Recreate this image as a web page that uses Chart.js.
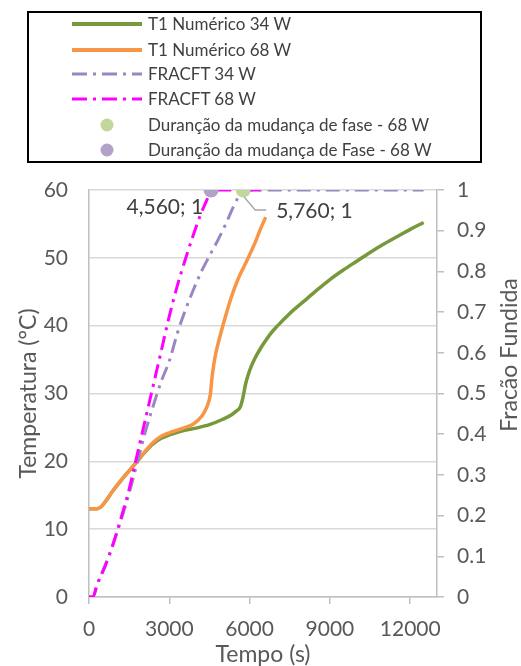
<!DOCTYPE html>
<html>
<head>
<meta charset="utf-8">
<script src="https://cdn.jsdelivr.net/npm/chart.js@4"></script>
<style>
  html, body { margin: 0; padding: 0; background: #fff; }
  #wrap { position: relative; width: 521px; height: 666px; overflow: hidden; }
  #legend { position: absolute; left: 27px; top: 11px; width: 451px; height: 148px; border: 2px solid #000; box-sizing: content-box; }
  .row { position: absolute; left: 0; height: 24px; font-family: Lato, "Liberation Sans", sans-serif; font-size: 17px; color: #404040; white-space: nowrap; }
  .row svg { position: absolute; left: 43px; top: 8px; }
  .row span { position: absolute; left: 119px; top: 1px; line-height: 22px; }
  canvas { position: absolute; left: 0; top: 0; }
</style>
</head>
<body>
<div id="wrap">
  <canvas id="c" width="521" height="666"></canvas>
  <div id="legend"></div>
</div>
<script>
// ---- Data ----
const timeT1_34 = [0, 300, 450, 600, 900, 1200, 1500, 1800, 2100, 2400, 2700, 3000, 3500, 4000, 4500, 5000, 5300, 5500, 5650, 5750, 5850, 5950, 6050, 6200, 6400, 6600, 6800, 7000, 7200, 7500, 8000, 8500, 9000, 9500, 10000, 10500, 11000, 11500, 12000, 12500];
const tempT1_34 = [13, 13, 13.3, 14, 15.7, 17.2, 18.6, 20.0, 21.4, 22.6, 23.4, 23.9, 24.5, 24.9, 25.4, 26.2, 26.8, 27.4, 28.0, 29.4, 31.4, 32.8, 33.9, 35.2, 36.6, 37.8, 38.9, 39.8, 40.6, 41.8, 43.5, 45.2, 46.8, 48.2, 49.5, 50.8, 52.0, 53.1, 54.2, 55.2];

const timeT1_68 = [0, 300, 450, 600, 900, 1200, 1500, 1800, 2100, 2400, 2700, 3000, 3300, 3600, 3900, 4200, 4400, 4530, 4600, 4700, 4800, 5000, 5100, 5300, 5550, 5900, 6200, 6400, 6600];
const tempT1_68 = [13, 13, 13.3, 14, 15.7, 17.2, 18.6, 20.0, 21.5, 22.8, 23.7, 24.2, 24.6, 25.0, 25.5, 26.6, 28.0, 29.8, 32.5, 35.2, 37.0, 40.0, 41.4, 44.0, 46.7, 49.6, 52.2, 54.2, 56.0];

const timeFrac34 = [0, 150, 300, 600, 900, 1200, 1500, 1800, 2100, 2400, 2700, 3000, 3300, 3600, 3900, 4200, 4500, 4800, 5100, 5400, 5600, 5760, 6500, 8000, 10000, 12500];
const frac34 = [0, 0, 0.03, 0.078, 0.13, 0.19, 0.255, 0.33, 0.405, 0.47, 0.53, 0.58, 0.648, 0.705, 0.755, 0.80, 0.838, 0.875, 0.915, 0.96, 0.985, 1, 1, 1, 1, 1];

const timeFrac68 = [0, 150, 300, 600, 900, 1200, 1500, 1800, 2100, 2400, 2700, 3000, 3300, 3600, 3900, 4200, 4400, 4560, 5000, 5760, 6600];
const frac68 = [0, 0, 0.03, 0.075, 0.13, 0.195, 0.265, 0.35, 0.435, 0.52, 0.605, 0.69, 0.765, 0.83, 0.89, 0.945, 0.975, 1, 1, 1, 1];

const phaseTime34 = [5760];
const phaseFrac34 = [1];
const phaseTime68 = [4560];
const phaseFrac68 = [1];

const xTicks = [0, 3000, 6000, 9000, 12000];
const yTicks = [0, 10, 20, 30, 40, 50, 60];
const y1Ticks = [0, 0.1, 0.2, 0.3, 0.4, 0.5, 0.6, 0.7, 0.8, 0.9, 1];

const seriesNames = ["T1 Numérico 34 W", "T1 Numérico 68 W", "FRACFT 34 W", "FRACFT 68 W", "Duranção da mudança de fase - 68 W", "Duranção da mudança de Fase - 68 W"];
const xTitle = "Tempo (s)";
const yTitle = "Temperatura (°C)";
const y1Title = "Fracão Fundida";

// ---- styling ----
const GREEN = '#77983b', ORANGE = '#f79646', PURPLE = '#9a86c2', MAGENTA = '#ff00ff';
const GREEN_MK = '#c3d69b', PURPLE_MK = '#b3a2c7';
const DASH = [14, 6, 3, 6];
const FONT = 'Lato, "Liberation Sans", sans-serif';
const TXT = '#595959';

function pts(xs, ys) { return xs.map((x, i) => ({ x: x, y: ys[i] })); }
function fixTicks(list) { return s => { s.ticks = list.map(v => ({ value: v })); }; }

// ---- Legend (HTML) ----
const legendItems = [
  { name: seriesNames[0], type: 'line', color: GREEN, dash: null, w: 4 },
  { name: seriesNames[1], type: 'line', color: ORANGE, dash: null, w: 4 },
  { name: seriesNames[2], type: 'line', color: PURPLE, dash: '15 6 3 6', w: 3 },
  { name: seriesNames[3], type: 'line', color: MAGENTA, dash: '15 6 3 6', w: 3 },
  { name: seriesNames[4], type: 'dot', color: GREEN_MK },
  { name: seriesNames[5], type: 'dot', color: PURPLE_MK }
];
const rowCenters = [24, 50, 74, 99, 125, 150];
const leg = document.getElementById('legend');
legendItems.forEach((it, i) => {
  const r = document.createElement('div');
  r.className = 'row';
  r.style.top = (rowCenters[i] - 13 - 12) + 'px';
  let svg;
  if (it.type === 'line') {
    svg = '<svg width="70" height="8"><line x1="0" y1="4" x2="70" y2="4" stroke="' + it.color + '" stroke-width="' + it.w + '"' + (it.dash ? ' stroke-dasharray="' + it.dash + '"' : ' stroke-linecap="round"') + '/></svg>';
  } else {
    svg = '<svg width="70" height="14" style="top:5px"><circle cx="35" cy="7" r="6.5" fill="' + it.color + '"/></svg>';
  }
  r.innerHTML = svg + '<span>' + it.name + '</span>';
  leg.appendChild(r);
});

// ---- custom plugin: right title + data labels ----
const extras = {
  id: 'extras',
  afterDatasetsDraw(chart) {
    const ctx = chart.ctx;
    const x = chart.scales.x, y1 = chart.scales.y1;
    ctx.save();
    const px1 = x.getPixelForValue(phaseTime68[0]), py1 = y1.getPixelForValue(phaseFrac68[0]);
    ctx.fillStyle = '#404040';
    ctx.font = '21px ' + FONT;
    ctx.textBaseline = 'middle';
    ctx.textAlign = 'right';
    ctx.fillText(phaseTime68[0].toLocaleString('en-US') + '; ' + phaseFrac68[0], px1 - 8, py1 + 17);
    const px2 = x.getPixelForValue(phaseTime34[0]), py2 = y1.getPixelForValue(phaseFrac34[0]);
    ctx.strokeStyle = '#a6a6a6';
    ctx.lineWidth = 1.3;
    ctx.beginPath();
    ctx.moveTo(px2 + 1, py2 + 7);
    ctx.lineTo(px2 + 12, py2 + 20);
    ctx.lineTo(px2 + 23, py2 + 20);
    ctx.stroke();
    ctx.textAlign = 'left';
    ctx.fillText(phaseTime34[0].toLocaleString('en-US') + '; ' + phaseFrac34[0], px2 + 33, py2 + 21);
    ctx.fillStyle = TXT;
    ctx.font = '23px ' + FONT;
    ctx.textAlign = 'center';
    ctx.translate(510, 355);
    ctx.rotate(-Math.PI / 2);
    ctx.fillText(y1Title, 0, 0);
    ctx.restore();
  }
};

new Chart(document.getElementById('c'), {
  type: 'line',
  data: {
    datasets: [
      { label: seriesNames[5], type: 'scatter', data: pts(phaseTime68, phaseFrac68), yAxisID: 'y1', pointRadius: 7.5, pointHoverRadius: 7.5, pointBackgroundColor: PURPLE_MK, pointBorderWidth: 0, backgroundColor: PURPLE_MK, order: 0 },
      { label: seriesNames[4], type: 'scatter', data: pts(phaseTime34, phaseFrac34), yAxisID: 'y1', pointRadius: 7.5, pointHoverRadius: 7.5, pointBackgroundColor: GREEN_MK, pointBorderWidth: 0, backgroundColor: GREEN_MK, order: 0 },
      { label: seriesNames[3], data: pts(timeFrac68, frac68), yAxisID: 'y1', borderColor: MAGENTA, borderWidth: 3, borderDash: DASH, pointRadius: 0, cubicInterpolationMode: 'monotone', order: 1 },
      { label: seriesNames[2], data: pts(timeFrac34, frac34), yAxisID: 'y1', borderColor: PURPLE, borderWidth: 3, borderDash: DASH, pointRadius: 0, cubicInterpolationMode: 'monotone', order: 2 },
      { label: seriesNames[1], data: pts(timeT1_68, tempT1_68), yAxisID: 'y', borderColor: ORANGE, borderWidth: 3.5, pointRadius: 0, cubicInterpolationMode: 'monotone', order: 3 },
      { label: seriesNames[0], data: pts(timeT1_34, tempT1_34), yAxisID: 'y', borderColor: GREEN, borderWidth: 3.5, pointRadius: 0, cubicInterpolationMode: 'monotone', order: 4 }
    ]
  },
  options: {
    responsive: false,
    animation: false,
    events: [],
    layout: { padding: { top: 190, left: 0, right: 0, bottom: 0 } },
    plugins: { legend: { display: false }, tooltip: { enabled: false } },
    scales: {
      x: {
        type: 'linear', position: 'bottom', min: 0, max: 13000,
        afterFit(s) { s.height = 69; },
        afterBuildTicks: fixTicks(xTicks),
        ticks: { autoSkip: false, color: TXT, font: { family: FONT, size: 21 }, padding: 13, maxRotation: 0, callback: v => String(v) },
        grid: { drawOnChartArea: false, drawTicks: true, tickLength: 7, color: '#bfbfbf', lineWidth: 1.5 },
        border: { color: '#bfbfbf', width: 1.5 },
        title: { display: true, text: xTitle, color: TXT, font: { family: FONT, size: 23, lineHeight: 1.0 }, padding: { top: 0, bottom: 0 } }
      },
      y: {
        type: 'linear', position: 'left', min: 0, max: 60,
        afterFit(s) { s.width = 89; },
        afterBuildTicks: fixTicks(yTicks),
        ticks: { autoSkip: false, color: TXT, font: { family: FONT, size: 21 }, padding: 21 },
        grid: { drawTicks: false, color: '#d9d9d9', lineWidth: 1.5 },
        border: { color: '#bfbfbf', width: 1.5 },
        title: { display: true, text: yTitle, color: TXT, font: { family: FONT, size: 23, lineHeight: 1.0 }, padding: { top: 17, bottom: 0 } }
      },
      y1: {
        type: 'linear', position: 'right', min: 0, max: 1,
        afterFit(s) { s.width = 84; },
        afterBuildTicks: fixTicks(y1Ticks),
        ticks: { autoSkip: false, color: TXT, font: { family: FONT, size: 21 }, padding: 13, callback: v => (Math.abs(v - Math.round(v)) < 1e-9 ? String(Math.round(v)) : v.toFixed(1)) },
        grid: { drawOnChartArea: false, drawTicks: true, tickLength: 7, color: '#bfbfbf', lineWidth: 1.5 },
        border: { color: '#bfbfbf', width: 1.5 },
        title: { display: false }
      }
    }
  },
  plugins: [extras]
});
</script>
</body>
</html>
